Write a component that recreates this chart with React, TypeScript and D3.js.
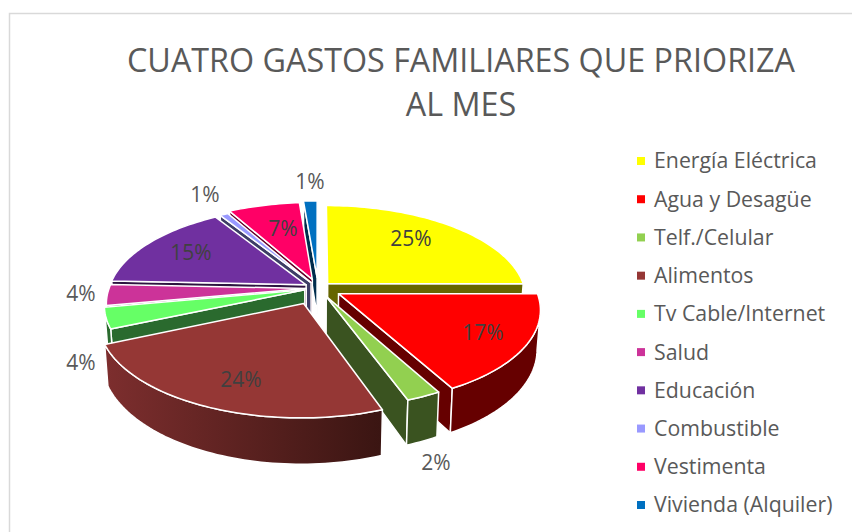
import * as d3 from "d3";

const categories = ["Energía Eléctrica", "Agua y Desagüe", "Telf./Celular", "Alimentos", "Tv Cable/Internet", "Salud", "Educación", "Combustible", "Vestimenta", "Vivienda (Alquiler)"];
const values = [25, 17, 2.4, 24, 3.6, 3.6, 15.4, 0.8, 6.8, 1.3];
const explosions = [0.07, 0.12, 0.1, 0.18, 0.07, 0.06, 0.07, 0.07, 0.1, 0.12];
const colors = ["#ffff00", "#ff0000", "#92d050", "#953735", "#66ff66", "#cc3399", "#7030a0", "#9999ff", "#ff0066", "#0070c0"];
const wallLeft = ["#666600", "#660000", "#3a5320", "#7d2e2e", "#2a6a2e", "#52143d", "#2d1340", "#3d3d66", "#660029", "#002d4d"];
const wallRight = ["#666600", "#660000", "#3a5320", "#3a1512", "#2a6a2e", "#52143d", "#2d1340", "#3d3d66", "#660029", "#002d4d"];
const titleLines = ["CUATRO GASTOS FAMILIARES QUE PRIORIZA", "AL MES"];

// etiquetas colocadas a mano, como en el original
const labelSpots = [[411, 239], [483, 333], [436, 463], [241, 380], [81, 363], [81, 294], [191, 253], [205, 195], [283, 229], [310, 182]];
const insideLabel = [true, true, false, true, false, false, true, false, true, false];

const W = 852, H = 532;
const cx = 318, cy = 288;
const rx = 197, A = 91.3, k = 0.155, depth = 38;
const FONT = "'Open Sans', sans-serif";

type P = [number, number];

// proyección con perspectiva: u apunta hacia atrás, v hacia la derecha
function project(u: number, v: number, bottom = false): P {
  const w = 1 + k * u;
  const x = cx + (rx * v / w) * (bottom ? 0.985 : 1);
  const y = cy - (A * u) / w + (bottom ? depth / w : 0);
  return [x, y];
}

const line = d3.line<P>();
const poly = (pts: P[]) => line(pts) + "Z";

export default function App() {
  const arcs = d3.pie<number>().sort(null).value(d => d)(values);
  const total = d3.sum(values);
  const pct = d3.format(".0%");
  const legendY = d3.scalePoint<string>().domain(categories).range([161, 505]);

  const slices = arcs.map((a, i) => {
    const mid = (a.startAngle + a.endAngle) / 2;
    const ou = explosions[i] * Math.cos(mid);
    const ov = explosions[i] * Math.sin(mid);
    const steps = Math.max(4, Math.ceil((a.endAngle - a.startAngle) * 40));
    const thetas = d3.range(steps + 1).map(s => a.startAngle + ((a.endAngle - a.startAngle) * s) / steps);
    const rim = (t: number, bottom = false) => project(ou + Math.cos(t), ov + Math.sin(t), bottom);
    const apex = project(ou, ov);
    const apexLow = project(ou, ov, true);
    const top = poly([apex, ...thetas.map(t => rim(t))]);

    // solo los tramos del borde que miran a la cámara
    const front = thetas.filter((t, s) => {
      const next = thetas[Math.min(s + 1, steps)];
      const prev = thetas[Math.max(s - 1, 0)];
      return rim(next)[0] < rim(t)[0] || rim(t)[0] < rim(prev)[0];
    });
    const outer = front.length > 1
      ? poly([...front.map(t => rim(t)), ...front.slice().reverse().map(t => rim(t, true))])
      : null;
    const xs = front.map(t => rim(t)[0]);

    const radial: string[] = [];
    if (Math.sin(a.startAngle) < 0) radial.push(poly([apex, rim(a.startAngle), rim(a.startAngle, true), apexLow]));
    if (Math.sin(a.endAngle) > 0) radial.push(poly([apex, rim(a.endAngle), rim(a.endAngle, true), apexLow]));

    return { i, mid, top, outer, radial, x0: d3.min(xs) ?? 0, x1: d3.max(xs) ?? 0 };
  });

  const order = slices.slice().sort((a, b) => d3.descending(Math.cos(a.mid), Math.cos(b.mid)));

  return (
    <svg width={W} height={H} style={{ position: "absolute", left: 0, top: 0, background: "#fff" }}>
      <defs>
        {slices.map(s => (
          <linearGradient key={s.i} id={`wall-${s.i}`} gradientUnits="userSpaceOnUse" x1={s.x0} x2={s.x1 + 0.01} y1={0} y2={0}>
            <stop offset="0" stopColor={wallLeft[s.i]} />
            <stop offset="1" stopColor={wallRight[s.i]} />
          </linearGradient>
        ))}
      </defs>
      <path d={`M9.5,${H}V13.5H${W}`} fill="none" stroke="#d9d9d9" strokeWidth={1.5} />

      {titleLines.map((t, i) => (
        <text key={t} x={461} y={71.5 + i * 44.5} textAnchor="middle" fontFamily={FONT} fontSize={32.3} fill="#595959">{t}</text>
      ))}

      {order.map(s => (
        <g key={s.i} stroke="#fff" strokeWidth={1.5} strokeLinejoin="round">
          {s.radial.map((d, j) => <path key={j} d={d} fill={wallRight[s.i]} />)}
          {s.outer && <path d={s.outer} fill={`url(#wall-${s.i})`} />}
          <path d={s.top} fill={colors[s.i]} />
        </g>
      ))}

      {labelSpots.map(([x, y], i) => (
        <text key={i} x={x} y={y} dy="0.35em" textAnchor="middle" fontFamily={FONT} fontSize={21} fill={insideLabel[i] ? "#404040" : "#595959"}>
          {pct(values[i] / total)}
        </text>
      ))}

      {categories.map((c, i) => (
        <g key={c} transform={`translate(0,${legendY(c)})`}>
          <rect x={637} y={-4} width={8} height={8} fill={colors[i]} />
          <text x={654} dy="0.35em" fontFamily={FONT} fontSize={21.3} fill="#595959">{c}</text>
        </g>
      ))}
    </svg>
  );
}
